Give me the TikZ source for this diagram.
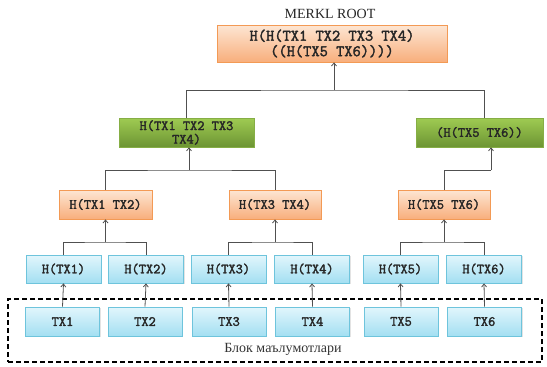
\documentclass[tikz,border=0pt]{standalone}
\usepackage{fontspec}
\setmainfont{Liberation Serif}
\newfontfamily\boxmono{Latin Modern Mono}[AutoFakeBold=2.2]
\usetikzlibrary{arrows.meta,shadows,calc}
\definecolor{orTop}{HTML}{FDE6D3}
\definecolor{orBot}{HTML}{F8AE7C}
\definecolor{orLine}{HTML}{F39A55}
\definecolor{grTop}{HTML}{9FCB52}
\definecolor{grBot}{HTML}{6C9433}
\definecolor{grLine}{HTML}{86AE45}
\definecolor{blTop}{HTML}{E2F6FC}
\definecolor{blBot}{HTML}{A3DFF2}
\definecolor{blLine}{HTML}{6EC4DC}
\definecolor{conCol}{HTML}{505050}
\tikzset{
  boxbase/.style={rectangle, inner sep=1pt, align=center, text=black!85,
    font=\boxmono\bfseries\fontsize{14}{13.5}\selectfont,
    drop shadow={shadow xshift=1pt, shadow yshift=-1.2pt, fill=black!22}},
  orbox/.style={boxbase, top color=orTop, bottom color=orBot, draw=orLine, line width=0.8pt},
  grbox/.style={boxbase, top color=grTop, bottom color=grBot, draw=grLine, line width=0.6pt},
  blbox/.style={boxbase, top color=blTop, bottom color=blBot, draw=blLine, line width=0.8pt},
  conn/.style={draw=conCol, line width=0.8pt},
  arr/.style={conn, -{Straight Barb[length=3pt,width=5pt]}},
}
\begin{document}
\begin{tikzpicture}[x=1pt,y=-1pt]
\useasboundingbox (0,0) rectangle (547,367);
% dashed block
\node[draw=black, line width=1.3pt, dash pattern=on 5pt off 3pt, rectangle,
      minimum width=534pt, minimum height=63pt, inner sep=0pt] (block) at (275,330.5) {};
\node[font=\fontsize{14}{16}\selectfont, text=black!80] (blabel) at (283,349) {Блок маълумотлари};
% root
\node[font=\fontsize{14}{16}\selectfont, text=black!85] (rootlabel) at (330,14) {MERKL ROOT};
\node[orbox, minimum width=230pt, minimum height=37pt, font=\boxmono\bfseries\fontsize{16}{15.5}\selectfont] (root) at (332,43.5) {H(H(TX1 TX2 TX3 TX4)\\((H(TX5 TX6))))};
% green
\node[grbox, minimum width=135pt, minimum height=29pt] (gL) at (186.5,132.5) {H(TX1 TX2 TX3\\TX4)};
\node[grbox, minimum width=127pt, minimum height=29pt] (gR) at (479.5,132.5) {(H(TX5 TX6))};
% orange
\node[orbox, minimum width=93pt, minimum height=29pt] (o12) at (105.5,204.5) {H(TX1 TX2)};
\node[orbox, minimum width=92pt, minimum height=29pt] (o34) at (275,204.5) {H(TX3 TX4)};
\node[orbox, minimum width=92pt, minimum height=29pt] (o56) at (444,204.5) {H(TX5 TX6)};
% blue hashes
\foreach \n/\x in {1/63.5,2/146,3/228.5,4/312,5/400.5,6/484}{
  \node[blbox, minimum width=75pt, minimum height=28pt] (h\n) at (\x,269) {H(TX\n)};
}
% transactions
\foreach \n/\x in {1/62.5,2/145,3/229,4/312.5,5/401,6/484.5}{
  \node[blbox, minimum width=74pt, minimum height=29pt] (t\n) at (\x,321.5) {TX\n};
}
% connectors TX -> H(TX)
\foreach \n in {1,...,6}{
  \draw[arr] (t\n.north) -- (h\n.south);
}
% H(TX) pairs -> orange
\coordinate (j12) at (o12.south |- 0,242);
\coordinate (j34) at (o34.south |- 0,242);
\coordinate (j56) at (o56.south |- 0,242);
\draw[conn] (h1.north) |- (j12) -| (h2.north);
\draw[arr] (j12) -- (o12.south);
\draw[conn] (h3.north) |- (j34) -| (h4.north);
\draw[arr] (j34) -- (o34.south);
\draw[conn] (h5.north) |- (j56) -| (h6.north);
\draw[arr] (j56) -- (o56.south);
% orange -> green
\coordinate (jL) at (189,170);
\draw[conn] (o12.north) |- (jL) -| (o34.north);
\draw[arr] (jL) -- (jL |- gL.south);
\coordinate (jR) at (491,170);
\draw[conn] (o56.north) |- (jR);
\draw[arr] (jR) -- (jR |- gR.south);
% green -> root
\coordinate (jT) at (334,90);
\coordinate (gRtop) at (484,118);
\draw[conn] (gL.north) |- (jT) -| (gRtop);
\draw[arr] (jT) -- (jT |- root.south);
\end{tikzpicture}
\end{document}
